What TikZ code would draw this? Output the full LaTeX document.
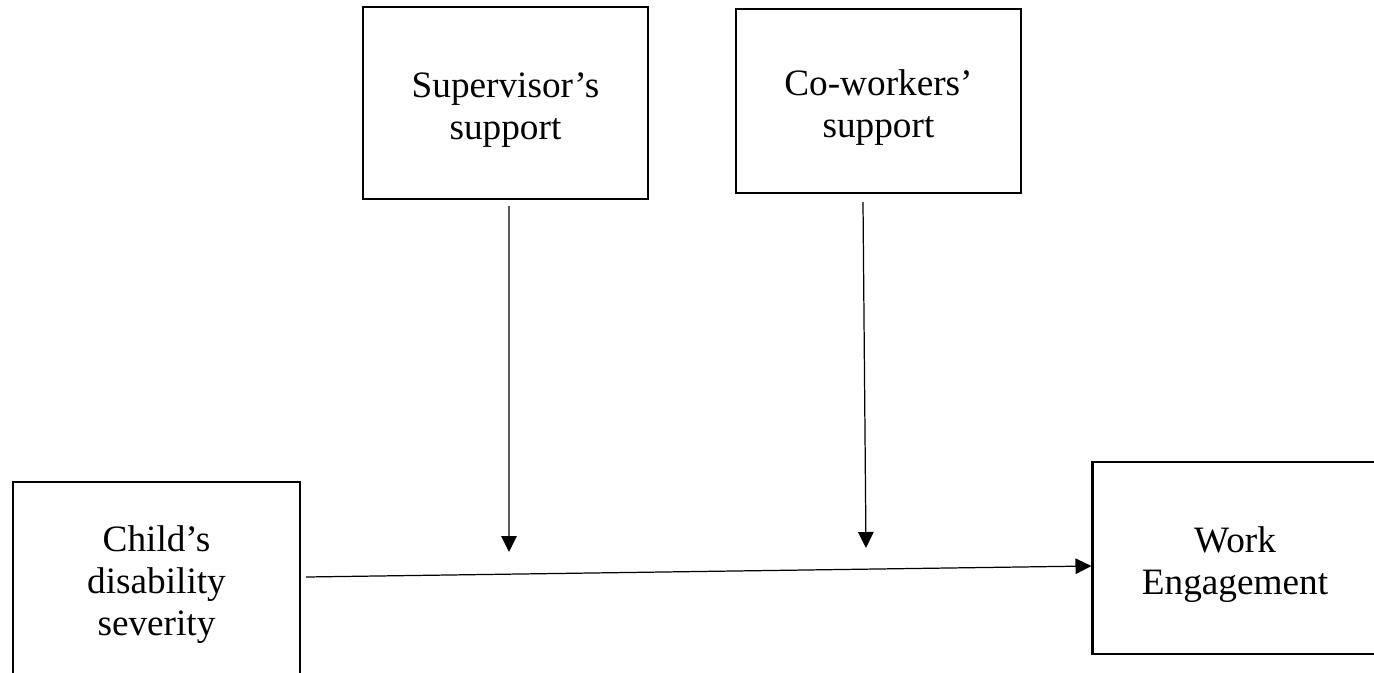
\documentclass[tikz,border=0pt]{standalone}
\usepackage{fontspec}
\setmainfont{Liberation Serif}
\usetikzlibrary{arrows.meta}
\begin{document}
\begin{tikzpicture}[x=0.02cm,y=-0.02cm,
        box/.style={draw,line width=1.2pt,minimum width=5.7cm,minimum height=3.84cm,align=center,inner sep=0pt,text height=46pt,font=\fontsize{21.2}{23.8}\selectfont},
        arr/.style={line width=0.7pt,-{Triangle[width=0.31cm,length=0.32cm]}}]
        \useasboundingbox (0,0) rectangle (1374,673);
        \node[box](sup)at(505.5,103){Supervisor’s\\support};
        \node[box,minimum height=3.68cm](cow)at(878.5,101){Co-workers’\\support};
        \node[box,minimum width=5.74cm,text height=70pt](child)at(156.5,578){Child’s\\disability\\severity};
        \node[box](work)at(1235,558){Work\\Engagement};
        %free ends of the moderator arrows
        \coordinate(m1)at(509,552);
        \coordinate(m2)at(866,548);
        \draw[arr]([xshift=0.07cm,yshift=-0.12cm]sup.south)--(m1);
        \draw[arr]([xshift=-0.31cm,yshift=-0.16cm]cow.south)--(m2);
        \draw[arr]([xshift=0.1cm,yshift=0.02cm]child.east)--([yshift=-0.16cm]work.west);
    \end{tikzpicture}
\end{document}
